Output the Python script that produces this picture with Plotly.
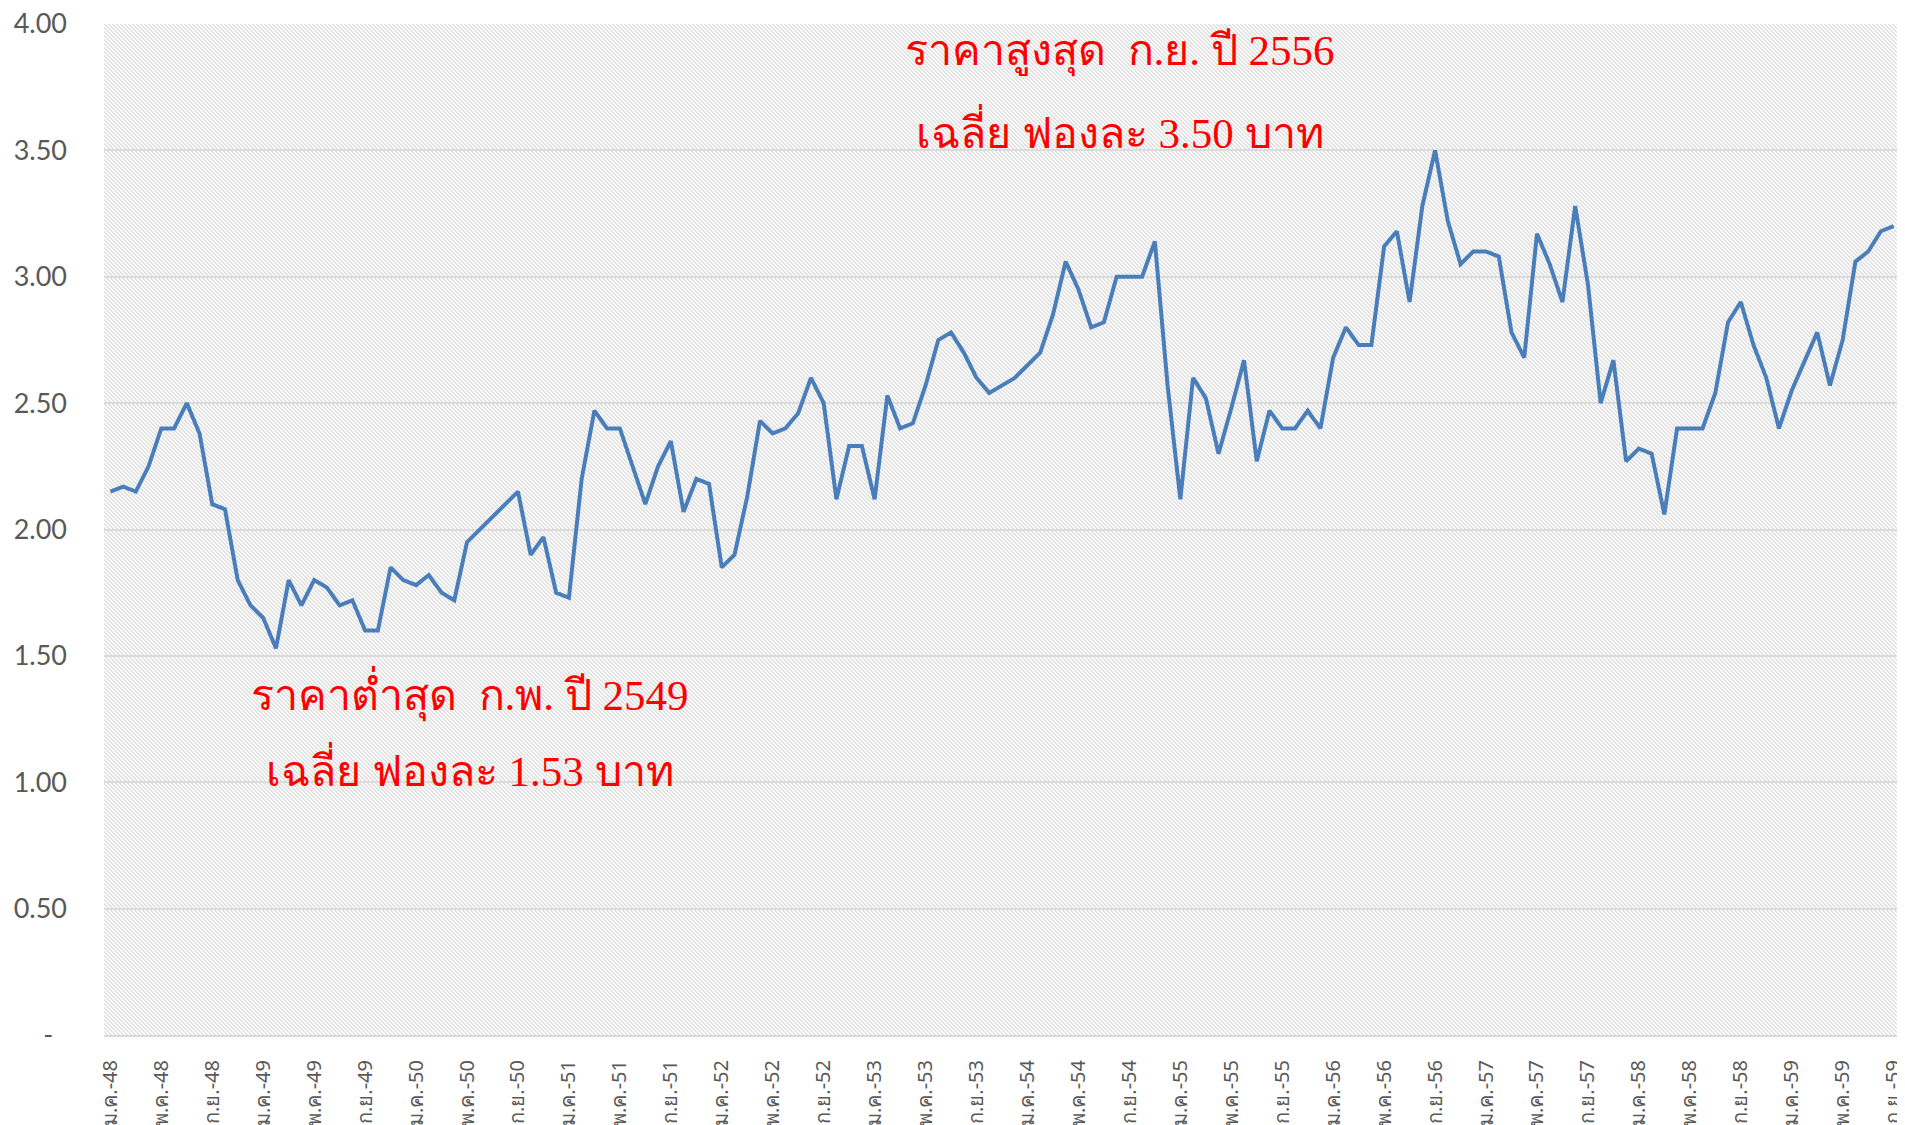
import base64
import plotly.graph_objects as go

# ---------------- data ----------------
thai_months = ["ม.ค.", "ก.พ.", "มี.ค.", "เม.ย.", "พ.ค.", "มิ.ย.",
               "ก.ค.", "ส.ค.", "ก.ย.", "ต.ค.", "พ.ย.", "ธ.ค."]
years = ["48", "49", "50", "51", "52", "53", "54", "55", "56", "57", "58", "59"]
n_months = 141  # ม.ค.-48 .. ก.ย.-59

categories = [f"{m}-{y}" for y in years for m in thai_months][:n_months]

prices = [
    2.15, 2.17, 2.15, 2.25, 2.40, 2.40, 2.50, 2.38, 2.10, 2.08, 1.80, 1.70,   # 48
    1.65, 1.53, 1.80, 1.70, 1.80, 1.77, 1.70, 1.72, 1.60, 1.60, 1.85, 1.80,   # 49
    1.78, 1.82, 1.75, 1.72, 1.95, 2.00, 2.05, 2.10, 2.15, 1.90, 1.97, 1.75,   # 50
    1.73, 2.20, 2.47, 2.40, 2.40, 2.25, 2.10, 2.25, 2.35, 2.07, 2.20, 2.18,   # 51
    1.85, 1.90, 2.13, 2.43, 2.38, 2.40, 2.46, 2.60, 2.50, 2.12, 2.33, 2.33,   # 52
    2.12, 2.53, 2.40, 2.42, 2.57, 2.75, 2.78, 2.70, 2.60, 2.54, 2.57, 2.60,   # 53
    2.65, 2.70, 2.85, 3.06, 2.95, 2.80, 2.82, 3.00, 3.00, 3.00, 3.14, 2.57,   # 54
    2.12, 2.60, 2.52, 2.30, 2.48, 2.67, 2.27, 2.47, 2.40, 2.40, 2.47, 2.40,   # 55
    2.68, 2.80, 2.73, 2.73, 3.12, 3.18, 2.90, 3.28, 3.50, 3.22, 3.05, 3.10,   # 56
    3.10, 3.08, 2.78, 2.68, 3.17, 3.05, 2.90, 3.28, 2.97, 2.50, 2.67, 2.27,   # 57
    2.32, 2.30, 2.06, 2.40, 2.40, 2.40, 2.54, 2.82, 2.90, 2.73, 2.60, 2.40,   # 58
    2.55, 2.67, 2.78, 2.57, 2.75, 3.06, 3.10, 3.18, 3.20,                     # 59
]

tick_step = 4
x_ticks = categories[::tick_step]

y_tickvals = [0, 0.5, 1.0, 1.5, 2.0, 2.5, 3.0, 3.5, 4.0]
y_ticktext = ["-\u00a0\u00a0", "0.50", "1.00", "1.50", "2.00", "2.50", "3.00", "3.50", "4.00"]

high_label = ["ราคาสูงสุด  ก.ย. ปี 2556", "เฉลี่ย ฟองละ 3.50 บาท"]
low_label = ["ราคาต่ำสุด  ก.พ. ปี 2549", "เฉลี่ย ฟองละ 1.53 บาท"]

# ---------------- figure ----------------
# the page body has an 8px margin, so the figure is sized to fit the window
W, H = 1897, 1117
ML, MR, MT, MB = 96, 5, 16, 90
PW, PH = W - ML - MR, H - MT - MB

HATCH = "#e0e0e0"
svg = (
    f"<svg xmlns='http://www.w3.org/2000/svg' width='{PW}' height='{PH}' "
    f"viewBox='0 0 {PW} {PH}' shape-rendering='crispEdges'>"
    "<defs><pattern id='p' width='4' height='4' patternUnits='userSpaceOnUse'>"
    f"<rect x='0' y='0' width='2' height='1' fill='{HATCH}'/>"
    f"<rect x='1' y='1' width='2' height='1' fill='{HATCH}'/>"
    f"<rect x='2' y='2' width='2' height='1' fill='{HATCH}'/>"
    f"<rect x='3' y='3' width='1' height='1' fill='{HATCH}'/>"
    f"<rect x='0' y='3' width='1' height='1' fill='{HATCH}'/>"
    "</pattern></defs>"
    "<rect width='100%' height='100%' fill='url(#p)'/></svg>"
)
svg_uri = "data:image/svg+xml;base64," + base64.b64encode(svg.encode()).decode()

fig = go.Figure()
fig.add_trace(go.Scatter(
    x=categories, y=prices, mode="lines",
    line=dict(color="#4a7ebb", width=4),
    hoverinfo="x+y", showlegend=False,
))

ann_font = dict(family="'Times New Roman', 'Liberation Serif', serif", size=43, color="#ff0000")
annotations = []
for txt, yv in zip(high_label, [3.89, 3.58]):
    annotations.append(dict(x=79.3, y=yv, xref="x", yref="y", text=txt, showarrow=False,
                            font=ann_font, xanchor="center", yanchor="middle"))
for txt, yv in zip(low_label, [1.35, 1.055]):
    annotations.append(dict(x=28.2, y=yv, xref="x", yref="y", text=txt, showarrow=False,
                            font=ann_font, xanchor="center", yanchor="middle"))

fig.update_layout(
    width=W, height=H,
    margin=dict(l=ML, r=MR, t=MT, b=MB, pad=0),
    paper_bgcolor="white", plot_bgcolor="white",
    images=[dict(source=svg_uri, xref="paper", yref="paper", x=0, y=1,
                 sizex=1, sizey=1, xanchor="left", yanchor="top",
                 sizing="stretch", layer="below")],
    annotations=annotations,
    xaxis=dict(
        type="category", range=[-0.5, n_months - 0.5],
        tickmode="array", tickvals=x_ticks, ticktext=x_ticks,
        tickangle=-90, tickfont=dict(family="'Noto Sans', 'Open Sans', sans-serif", size=20, color="#595959"),
        showgrid=False, showline=True, linecolor="#d9d9d9", linewidth=2,
        ticks="", ticklabelstandoff=15, automargin=False, zeroline=False,
        ticklabeloverflow="allow",
    ),
    yaxis=dict(
        range=[0, 4], tickmode="array", tickvals=y_tickvals, ticktext=y_ticktext,
        tickfont=dict(family="Lato, 'Open Sans', sans-serif", size=27, color="#595959"),
        showgrid=True, gridcolor="#dcdcdc", gridwidth=2,
        showline=False, zeroline=False, ticks="",
        ticklabelstandoff=36, automargin=False, ticklabeloverflow="allow",
    ),
)

fig.write_html("out.html")
